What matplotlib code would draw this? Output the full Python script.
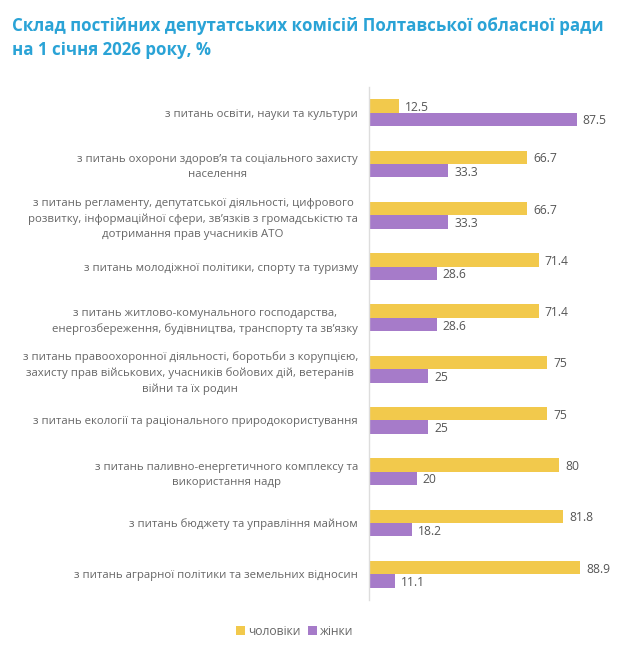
#!/usr/bin/env python3
# -*- coding: utf-8 -*-

import matplotlib
matplotlib.use("Agg")
import matplotlib.pyplot as plt
import numpy as np

# Données
categories = [
    "з питань освіти, науки та культури",
    "з питань охорони здоров’я та соціального захисту\nнаселення",
    "з питань регламенту, депутатської діяльності, цифрового\nрозвитку, інформаційної сфери, зв’язків з громадськістю та\nдотримання прав учасників АТО",
    "з питань молодіжної політики, спорту та туризму",
    "з питань житлово-комунального господарства,\nенергозбереження, будівництва, транспорту та зв’язку",
    "з питань правоохоронної діяльності, боротьби з корупцією,\nзахисту прав військових, учасників бойових дій, ветеранів\nвійни та їх родин",
    "з питань екології та раціонального природокористування",
    "з питань паливно-енергетичного комплексу та\nвикористання надр",
    "з питань бюджету та управління майном",
    "з питань аграрної політики та земельних відносин",
]
men = [12.5, 66.7, 66.7, 71.4, 71.4, 75, 75, 80, 81.8, 88.9]
women = [87.5, 33.3, 33.3, 28.6, 28.6, 25, 25, 20, 18.2, 11.1]
men_labels = ["12.5", "66.7", "66.7", "71.4", "71.4", "75", "75", "80", "81.8", "88.9"]
women_labels = ["87.5", "33.3", "33.3", "28.6", "28.6", "25", "25", "20", "18.2", "11.1"]
series_names = ["чоловіки", "жінки"]

YELLOW = "#F2C94C"
PURPLE = "#A67BC9"
TEXT = "#666666"
TITLE = "#2AA3D6"

plt.rcParams["font.family"] = ["Open Sans", "DejaVu Sans"]

fig = plt.figure(figsize=(6.4, 6.45), dpi=100)
ax = fig.add_axes([0.5766, 0.0698, 0.371, 0.7953])

y = np.arange(len(categories))
h = 0.262
ax.barh(y - h / 2, men, height=h, color=YELLOW, label=series_names[0])
ax.barh(y + h / 2, women, height=h, color=PURPLE, label=series_names[1])

for i in range(len(categories)):
    ax.text(men[i] + 2.5, y[i] - h / 2 + 0.03, men_labels[i], va="center",
            ha="left", fontsize=8.7, color="#555555")
    ax.text(women[i] + 2.5, y[i] + h / 2 + 0.03, women_labels[i], va="center",
            ha="left", fontsize=8.7, color="#555555")

ax.set_xlim(0, 100)
ax.set_ylim(len(categories) - 0.5, -0.5)
ax.set_yticks(y)
ax.set_yticklabels(categories, fontsize=8.2, color=TEXT, multialignment="center",
                   linespacing=1.5)
ax.tick_params(axis="y", length=0, pad=8)
ax.set_xticks([])
for s in ["top", "right", "bottom"]:
    ax.spines[s].set_visible(False)
ax.spines["left"].set_color("#dddddd")
ax.spines["left"].set_linewidth(1)

fig.text(0.019, 0.959, "Склад постійних депутатських комісій Полтавської обласної ради",
         fontsize=12.2, fontweight="bold", color=TITLE, va="center")
fig.text(0.019, 0.922, "на 1 січня 2026 року, %",
         fontsize=12.2, fontweight="bold", color=TITLE, va="center")

fig.legend(loc="center", bbox_to_anchor=(0.46, 0.021), ncol=2, frameon=False,
           fontsize=8.7, handlelength=0.8, handleheight=0.8, handletextpad=0.2,
           columnspacing=0.6, labelcolor=TEXT)

fig.savefig("out.png", dpi=100, facecolor="white")
